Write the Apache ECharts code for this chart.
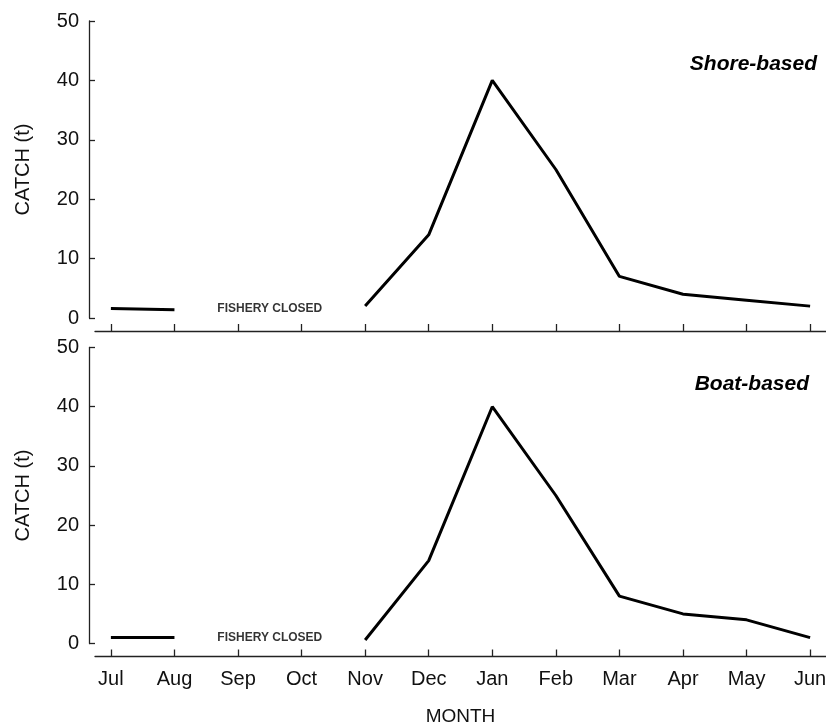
<!DOCTYPE html>
<html><head><meta charset="utf-8">
<script src="https://cdn.jsdelivr.net/npm/echarts@6/dist/echarts.min.js"></script>
<style>html,body{margin:0;padding:0;background:#fff}#c{width:826px;height:727px}</style>
</head><body><div id="c"></div>
<script>
const months = ['Jul','Aug','Sep','Oct','Nov','Dec','Jan','Feb','Mar','Apr','May','Jun'];
const shoreCatch = [1.6, 1.4, null, null, 2, 14, 40, 25, 7, 4, 3, 2];
const boatCatch = [1, 1, null, null, 0.6, 14, 40, 25, 8, 5, 4, 1];
const panelTitles = ['Shore-based', 'Boat-based'];
const closedLabel = 'FISHERY CLOSED';
const closedPoints = [[2.5, 1.6], [2.5, 0.9]];

const FONT = '"Liberation Sans", Arial, sans-serif';
const AX = '#222';
const tickIdx = months.map((m, i) => i);
const panels = [shoreCatch, boatCatch];

const grids = [
  {left: 95, right: 0, top: 21, height: 297, outerBoundsMode: 'none', containLabel: false},
  {left: 95, right: 0, top: 347.5, height: 296, outerBoundsMode: 'none', containLabel: false}
];

const xAxes = panels.map((p, g) => ({
  type: 'value', gridIndex: g, min: -0.25, max: 11.25, offset: 13,
  axisLine: {show: true, onZero: false, lineStyle: {color: AX, width: 1.3}},
  axisTick: {show: true, inside: true, length: 7, customValues: tickIdx, lineStyle: {color: AX, width: 1.3}},
  axisLabel: {show: g === 1, customValues: tickIdx, formatter: v => months[Math.round(v)] || '',
    fontSize: 20, color: '#111', fontFamily: FONT, margin: 13, hideOverlap: false},
  splitLine: {show: false},
  name: g === 1 ? 'MONTH' : '', nameLocation: 'middle', nameGap: 51,
  nameTextStyle: {fontSize: 19, color: '#111', fontFamily: FONT}
}));

const yAxes = panels.map((p, g) => ({
  type: 'value', gridIndex: g, min: 0, max: 50, interval: 10, offset: 6,
  axisLine: {show: true, onZero: false, lineStyle: {color: AX, width: 1.3}},
  axisTick: {show: true, inside: true, length: 6, lineStyle: {color: AX, width: 1.3}},
  axisLabel: {fontSize: 20, color: '#111', fontFamily: FONT, margin: 10},
  splitLine: {show: false},
  name: 'CATCH (t)', nameLocation: 'middle', nameGap: 56,
  nameTextStyle: {fontSize: 20, color: '#111', fontFamily: FONT}
}));

const series = [];
panels.forEach((vals, g) => {
  series.push({
    type: 'line', xAxisIndex: g, yAxisIndex: g, symbol: 'none', connectNulls: false,
    lineStyle: {color: '#000', width: 3}, silent: true,
    data: vals.map((v, i) => [i, v === null ? '-' : v])
  });
  series.push({
    type: 'scatter', xAxisIndex: g, yAxisIndex: g, symbolSize: 0, silent: true,
    label: {show: true, position: 'inside', formatter: closedLabel, fontSize: 12,
      fontWeight: 'bold', color: '#000', textBorderWidth: 0, fontFamily: FONT},
    data: [closedPoints[g]]
  });
});

const titles = [
  {text: panelTitles[0], right: 9, top: 54},
  {text: panelTitles[1], right: 17, top: 374}
].map(t => Object.assign(t, {textStyle: {fontSize: 21, fontWeight: 'bold', fontStyle: 'italic', color: '#000', fontFamily: FONT}, padding: 0}));

const chart = echarts.init(document.getElementById('c'));
chart.setOption({
  animation: false,
  backgroundColor: '#fff',
  title: titles,
  grid: grids,
  xAxis: xAxes,
  yAxis: yAxes,
  series: series
});
</script></body></html>
